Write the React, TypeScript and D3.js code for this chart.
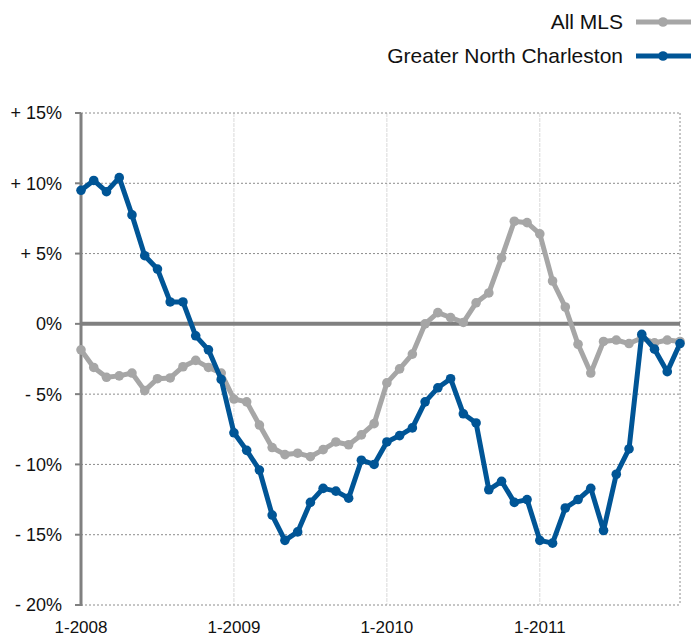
import { useMemo } from 'react';
import * as d3 from 'd3';

// monthly values, 1-2008 .. 12-2011 (percent change)
const months = d3.range(48).map(i => `${(i % 12) + 1}-${2008 + Math.floor(i / 12)}`);

const allMLS = [
  -1.85, -3.1, -3.8, -3.7, -3.5, -4.75, -3.9, -3.85, -3.05, -2.6, -3.1, -3.5,
  -5.35, -5.55, -7.2, -8.8, -9.3, -9.2, -9.45, -8.95, -8.4, -8.6, -7.9, -7.1,
  -4.2, -3.2, -2.15, 0.0, 0.8, 0.45, 0.1, 1.5, 2.2, 4.7, 7.3, 7.2,
  6.4, 3.05, 1.2, -1.45, -3.5, -1.25, -1.15, -1.4, -1.0, -1.35, -1.15, -1.25
];

const northCharleston = [
  9.5, 10.2, 9.4, 10.4, 7.75, 4.85, 3.9, 1.56, 1.56, -0.85, -1.85, -3.95,
  -7.75, -9.0, -10.4, -13.6, -15.4, -14.8, -12.7, -11.7, -11.9, -12.4, -9.7, -10.0,
  -8.4, -7.95, -7.4, -5.55, -4.55, -3.9, -6.4, -7.05, -11.8, -11.2, -12.7, -12.5,
  -15.4, -15.6, -13.1, -12.5, -11.7, -14.7, -10.7, -8.9, -0.75, -1.8, -3.4, -1.4
];

const yTicks = [15, 10, 5, 0, -5, -10, -15, -20];
const yTickLabels = ['+ 15%', '+ 10%', '+ 5%', '0%', '- 5%', '- 10%', '- 15%', '- 20%'];
const xTickMonths = ['1-2008', '1-2009', '1-2010', '1-2011'];

const series = [
  { name: 'All MLS', values: allMLS, color: '#a6a6a6' },
  { name: 'Greater North Charleston', values: northCharleston, color: '#005596' }
];

const FONT = '"Helvetica Neue", Helvetica, Arial, "Liberation Sans", sans-serif';

export default function App() {
  const width = 691;
  const height = 636;
  const left = 81, right = 680, top = 113, bottom = 605;

  const x = useMemo(() => d3.scaleLinear().domain([0, months.length - 1]).range([left, right]), []);
  const y = useMemo(() => d3.scaleLinear().domain([-20, 15]).range([bottom, top]), []);
  const line = d3.line<number>().x((_, i) => x(i)).y(d => y(d));

  return (
    <svg width={width} height={height} style={{ position: 'absolute', left: 0, top: 0, background: '#fff' }}
      fontFamily={FONT}>
      {/* vertical year gridlines */}
      {xTickMonths.slice(1).map(m => {
        const xi = x(months.indexOf(m));
        return <line key={m} x1={xi} x2={xi} y1={top} y2={bottom} stroke="#d9d9d9" strokeWidth={1} strokeDasharray="4,1" />;
      })}
      {/* horizontal dotted gridlines */}
      {yTicks.filter(t => t !== 0).map(t => (
        <line key={t} x1={left} x2={right} y1={y(t)} y2={y(t)} stroke="#8c8c8c" strokeWidth={1} strokeDasharray="2,2" />
      ))}
      <line x1={right} x2={right} y1={top} y2={bottom} stroke="#8c8c8c" strokeWidth={1} strokeDasharray="2,2" />

      {/* zero line */}
      <line x1={left} x2={right} y1={y(0)} y2={y(0)} stroke="#808080" strokeWidth={4} />

      {/* y axis */}
      <line x1={left} x2={left} y1={top} y2={bottom + 1} stroke="#808080" strokeWidth={3} />
      {yTicks.map((t, i) => (
        <g key={t}>
          <line x1={left - 6} x2={left} y1={y(t)} y2={y(t)} stroke="#808080" strokeWidth={2} />
          <text x={62} y={y(t)} dy="0.36em" textAnchor="end" fontSize={18} fill="#111">{yTickLabels[i]}</text>
        </g>
      ))}

      {/* x labels */}
      {xTickMonths.map(m => (
        <text key={m} x={x(months.indexOf(m))} y={633} textAnchor="middle" fontSize={17} fill="#111">{m}</text>
      ))}

      {/* series */}
      {series.map(s => (
        <g key={s.name}>
          <path d={line(s.values) ?? ''} fill="none" stroke={s.color} strokeWidth={5} strokeLinejoin="round" />
          {s.values.map((v, i) => (
            <circle key={i} cx={x(i)} cy={y(v)} r={4.8} fill={s.color} />
          ))}
        </g>
      ))}

      {/* legend */}
      {series.map((s, i) => {
        const ly = i === 0 ? 22 : 56;
        return (
          <g key={s.name}>
            <text x={623} y={ly - 1} dy="0.36em" textAnchor="end" fontSize={21} fill="#111">{s.name}</text>
            <line x1={636} x2={691} y1={ly} y2={ly} stroke={s.color} strokeWidth={5} />
            <circle cx={663} cy={ly} r={4.8} fill={s.color} />
          </g>
        );
      })}
    </svg>
  );
}
